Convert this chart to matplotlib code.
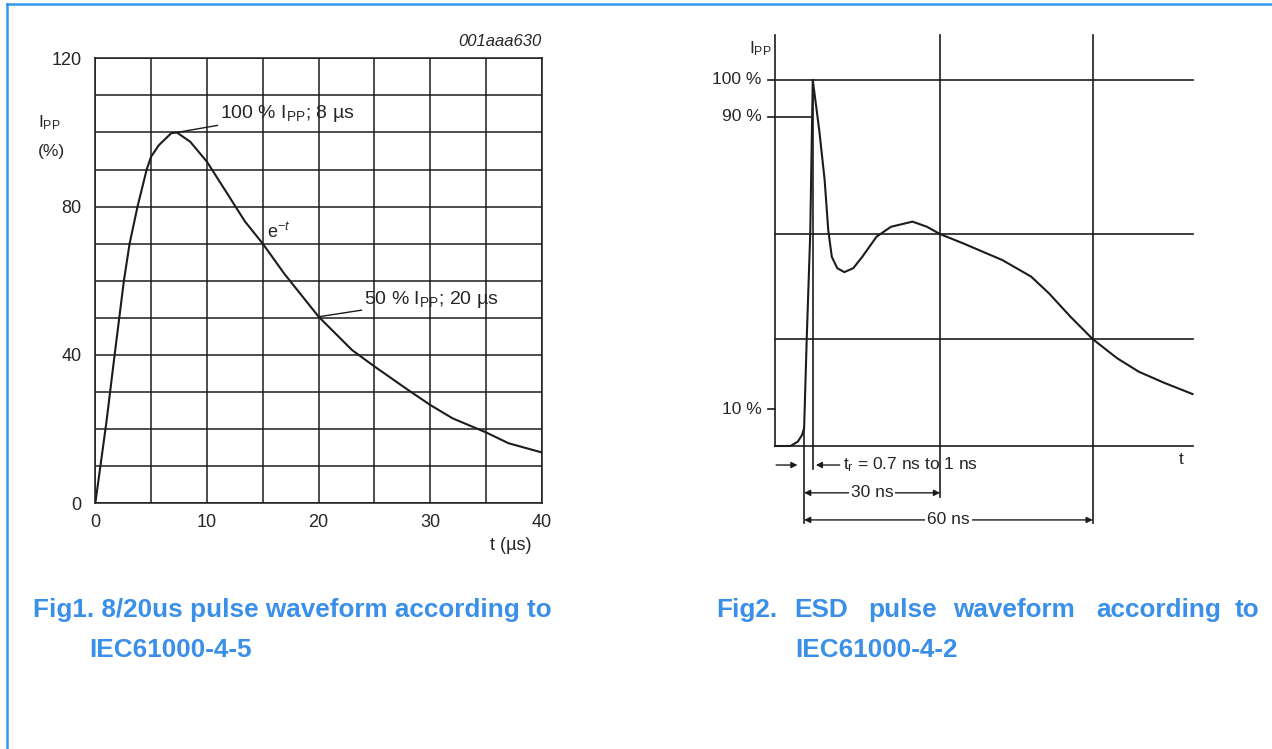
import matplotlib
matplotlib.use("Agg")
import matplotlib.pyplot as plt
from matplotlib import font_manager
from matplotlib.lines import Line2D

plt.rcParams['font.family'] = ['Liberation Sans', 'DejaVu Sans']
plt.rcParams['mathtext.fontset'] = 'custom'
plt.rcParams['mathtext.rm'] = 'Liberation Sans'
plt.rcParams['mathtext.it'] = 'Liberation Sans:italic'

# caption font: narrow if we have it
names = {f.name for f in font_manager.fontManager.ttflist}
cap_font = 'Liberation Sans Narrow' if 'Liberation Sans Narrow' in names else 'Liberation Sans'

# ---- Fig 1: 8/20 us surge waveform ----
surge_t = [0, 1.0, 1.73, 2.56, 3.07, 3.78, 4.6, 5.0, 5.7, 6.8, 7.3, 8.5, 10, 11.8,
           13.4, 15, 16.9, 20, 23, 25, 27.8, 30, 32, 35, 37, 40]
surge_i = [0, 22, 40, 60, 70, 80, 90, 93.5, 96.6, 99.8, 100, 97.5, 92.1, 83.6,
           76, 70, 62, 50.3, 41.3, 36.9, 31, 26.5, 22.9, 19.1, 16.2, 13.7]
surge_xticks = [0, 10, 20, 30, 40]
surge_yticks = [0, 40, 80, 120]

# ---- Fig 2: ESD waveform (schematic, t in ns, I in % of Ipp) ----
esd_t = [-2.42, 0.63, 2.04, 2.89, 3.30, 3.81, 4.50, 5.0, 6.27, 7.33, 8.04, 8.74,
         9.80, 11.20, 12.97, 14.73, 17.54, 20.37, 24.60, 27.43, 30.0, 34.48,
         42.24, 47.88, 51.41, 55.64, 60.0, 64.77, 69.04, 73.97, 79.6]
esd_i = [0, 0, 1.17, 3.0, 4.84, 29.2, 57.9, 100, 86.3, 72.7, 59.0, 51.7,
         48.6, 47.5, 48.6, 51.7, 57.2, 59.9, 61.3, 59.9, 57.9, 55.4,
         50.8, 46.3, 41.7, 35.3, 29.2, 24.0, 20.3, 17.3, 14.2]
esd_levels = [100, 57.9, 29.2, 0]
esd_ticks = [100, 90, 10]
esd_marks = [30, 60]
t_start, t_peak = 3.3, 5.0

cap1 = ['Fig1. 8/20us pulse waveform according to', 'IEC61000-4-5']
cap2_words = ['Fig2.', 'ESD', 'pulse', 'waveform', 'according', 'to']
cap2_line2 = 'IEC61000-4-2'

ink = '#1c1c1c'
txt = '#262626'
blue = '#3a8fe8'

fig = plt.figure(figsize=(12.72, 7.49), dpi=100)
W, H = 1272, 749

# page frame
fig.add_artist(Line2D([6.5 / W, 1], [1 - 4 / H, 1 - 4 / H], color='#3399f0', lw=1.8))
fig.add_artist(Line2D([6.5 / W, 6.5 / W], [0, 1 - 4 / H], color='#3399f0', lw=1.8))

# left chart
ax1 = fig.add_axes([95.3 / W, 1 - 503.3 / H, (542 - 95.3) / W, (503.3 - 58.3) / H])
ax1.plot(surge_t, surge_i, color=ink, lw=1.5, solid_joinstyle='round')
ax1.set_xlim(0, 40)
ax1.set_ylim(0, 120)
ax1.set_xticks(surge_xticks)
ax1.set_xticks([5, 15, 25, 35], minor=True)
ax1.set_yticks(surge_yticks)
ax1.set_yticks([v for v in range(10, 120, 10) if v not in surge_yticks], minor=True)
ax1.grid(True, which='both', color=ink, lw=1.1)
ax1.tick_params(which='both', length=0, labelsize=13, colors=txt)
ax1.tick_params(axis='y', pad=10)
ax1.tick_params(axis='x', pad=8)
for s in ax1.spines.values():
    s.set_color(ink)
    s.set_linewidth(1.1)

ax1.text(1.0, 1.02, '001aaa630', transform=ax1.transAxes, ha='right', va='bottom',
         fontsize=12, style='italic', color=txt)
ax1.text(-0.128, 0.855, r'I$_{\mathrm{PP}}$', transform=ax1.transAxes, fontsize=12.5,
         ha='left', va='center', color=txt)
ax1.text(-0.128, 0.79, '(%)', transform=ax1.transAxes, fontsize=12.5,
         ha='left', va='center', color=txt)
ax1.text(0.93, -0.095, 't (µs)', transform=ax1.transAxes, fontsize=13,
         ha='center', va='center', color=txt)

ax1.annotate(r'100 % I$_{\mathrm{PP}}$; 8 µs', xy=(7.3, 100), xytext=(11.2, 105.2),
             fontsize=14, va='center', ha='left', color=txt,
             arrowprops=dict(arrowstyle='-', color=ink, lw=1.0, shrinkA=0, shrinkB=0))
ax1.text(15.4, 73, r'e$^{-t}$', fontsize=13, color=txt, ha='left', va='center')
ax1.annotate(r'50 % I$_{\mathrm{PP}}$; 20 µs', xy=(20, 50.3), xytext=(24.1, 55.0),
             fontsize=14, va='center', ha='left', color=txt,
             arrowprops=dict(arrowstyle='-', color=ink, lw=1.0, shrinkA=0, shrinkB=0))

# right chart (axis drawn by hand, like the datasheet sketch)
x0, x1 = -2.42, 79.7
y0, y1 = -21.04, 112.84
ax2 = fig.add_axes([775 / W, 1 - 523 / H, (1193 - 775) / W, (523 - 33) / H])
ax2.set_xlim(x0, x1)
ax2.set_ylim(y0, y1)
ax2.axis('off')

lk = dict(color=ink, lw=1.2, clip_on=False)
ax2.plot([x0, x0], [0, 112.3], **lk)
for lv in esd_levels:
    start = -3.8 if lv == 100 else x0
    ax2.plot([start, x1], [lv, lv], **lk)
ax2.plot([-3.8, 4.9], [90, 90], **lk)
ax2.plot([-3.8, x0], [10, 10], **lk)
ax2.plot([esd_marks[0], esd_marks[0]], [112.3, -13.9], **lk)
ax2.plot([esd_marks[1], esd_marks[1]], [112.3, -21.0], **lk)
ax2.plot([t_start, t_start], [4.84, -21.0], **lk)
ax2.plot([t_peak, t_peak], [100, -6.3], **lk)

ax2.plot(esd_t, esd_i, color=ink, lw=1.5, solid_joinstyle='round', clip_on=False)

for v in esd_ticks:
    ax2.text(-5.0, v, f'{v} %', ha='right', va='center', fontsize=12.5, color=txt)
ax2.text(-3.0, 108.7, r'I$_{\mathrm{PP}}$', ha='right', va='center', fontsize=12.5,
         color=txt)
ax2.text(77.4, -3.8, 't', ha='center', va='center', fontsize=12.5, color=txt)

arw = dict(arrowstyle='-|>', color=ink, lw=1.0, mutation_scale=9, shrinkA=0, shrinkB=0)
ax2.annotate('', xy=(2.0, -5.2), xytext=(-2.2, -5.2), arrowprops=arw)
ax2.annotate('', xy=(5.6, -5.2), xytext=(10.3, -5.2), arrowprops=arw)
ax2.text(10.9, -5.2, r't$_{\mathrm{r}}$ = 0.7 ns to 1 ns', ha='left', va='center',
         fontsize=12.5, color=txt)

arw2 = dict(arrowstyle='<|-|>', color=ink, lw=1.0, mutation_scale=9, shrinkA=0, shrinkB=0)
for mark, yy in zip(esd_marks, [-12.8, -20.2]):
    ax2.annotate('', xy=(t_start, yy), xytext=(mark, yy), arrowprops=arw2)
    ax2.text((t_start + mark) / 2, yy, f'{mark} ns', ha='center', va='center',
             fontsize=12.5, color=txt,
             bbox=dict(facecolor='white', edgecolor='none', pad=1.5))

# captions
cap = dict(fontsize=18.8, fontweight='bold', color=blue, family=cap_font, va='baseline')
fig.text(33 / W, 1 - 617 / H, cap1[0], ha='left', **cap)
fig.text(89 / W, 1 - 657 / H, cap1[1], ha='left', **cap)
# second caption is justified in the source, place word by word
for word, px in zip(cap2_words, [716, 794, 868, 953, 1096, 1259]):
    fig.text(px / W, 1 - 617 / H, word, ha='right' if word == 'to' else 'left', **cap)
fig.text(795 / W, 1 - 657 / H, cap2_line2, ha='left', **cap)

fig.savefig('out.png', dpi=100)
